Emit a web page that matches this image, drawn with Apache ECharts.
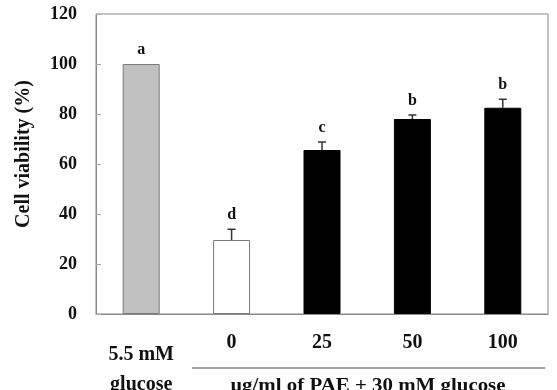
<!DOCTYPE html>
<html>
<head>
<meta charset="utf-8">
<script src="https://cdn.jsdelivr.net/npm/echarts@6/dist/echarts.min.js"></script>
<style>
  html, body { margin: 0; padding: 0; background: #fff; }
  #chart { width: 557px; height: 390px; }
</style>
</head>
<body>
<div id="chart"></div>
<script>
// values
const categories = ['5.5 mM\nglucose', '0', '25', '50', '100'];
const viability = [100, 29.6, 65.6, 78, 82.5];
const errors = [0, 4.3, 3.2, 1.6, 3.4];
const groupLetters = ['a', 'd', 'c', 'b', 'b'];
const yMin = 0;
const yMax = 120;
const yStep = 20;

const serif = '"Liberation Serif", "Times New Roman", serif';
const barStyles = [
  { color: '#c0c0c0', borderColor: '#7a7a7a', borderWidth: 1 },
  { color: '#ffffff', borderColor: '#7a7a7a', borderWidth: 1 },
  { color: '#000000', borderColor: '#000000', borderWidth: 1 },
  { color: '#000000', borderColor: '#000000', borderWidth: 1 },
  { color: '#000000', borderColor: '#000000', borderWidth: 1 }
];

const chart = echarts.init(document.getElementById('chart'));

function renderErrorBar(params, api) {
  const i = api.value(0);
  const v = api.value(1);
  const e = api.value(2);
  const base = api.coord([i, v]);
  const top = api.coord([i, v + e]);
  const children = [];
  if (e > 0) {
    children.push({
      type: 'line',
      shape: { x1: top[0], y1: base[1], x2: top[0], y2: top[1] },
      style: { stroke: '#333', lineWidth: 1.5 }
    });
    children.push({
      type: 'line',
      shape: { x1: top[0] - 4, y1: top[1], x2: top[0] + 4, y2: top[1] },
      style: { stroke: '#333', lineWidth: 1.5 }
    });
  }
  children.push({
    type: 'text',
    x: top[0],
    y: top[1] - 6,
    style: {
      text: groupLetters[params.dataIndex],
      font: 'bold 16px ' + serif,
      fill: '#111',
      align: 'center',
      verticalAlign: 'bottom'
    }
  });
  return { type: 'group', children: children };
}

const option = {
  animation: false,
  grid: {
    left: 96,
    right: 9,
    top: 14,
    bottom: 76,
    outerBoundsMode: 'none',
    containLabel: false,
    show: true,
    borderColor: '#8a8a8a',
    borderWidth: 1
  },
  xAxis: {
    type: 'category',
    data: categories,
    axisLine: { lineStyle: { color: '#8a8a8a', width: 1 } },
    axisTick: { show: false },
    axisLabel: {
      interval: 0,
      margin: 19,
      formatter: function (value, index) {
        if (index === 0) {
          const parts = value.split('\n');
          return '{s| }\n{g|' + parts[0] + '}\n{g|' + parts[1] + '}';
        }
        return '{n|' + value + '}';
      },
      rich: {
        s: { fontSize: 1, lineHeight: 7 },
        g: { fontFamily: serif, fontWeight: 'bold', fontSize: 20, lineHeight: 30, color: '#111' },
        n: { fontFamily: serif, fontWeight: 'bold', fontSize: 20, lineHeight: 20, color: '#111' }
      }
    }
  },
  yAxis: {
    type: 'value',
    min: yMin,
    max: yMax,
    interval: yStep,
    name: 'Cell viability (%)',
    nameLocation: 'middle',
    nameGap: 62,
    nameTextStyle: {
      fontFamily: serif,
      fontWeight: 'bold',
      fontSize: 20,
      color: '#111',
      padding: [0, 0, 0, 20]
    },
    axisLine: { show: true, lineStyle: { color: '#8a8a8a', width: 1 } },
    axisTick: { show: true, inside: true, length: 5, lineStyle: { color: '#aaa' } },
    splitLine: { show: false },
    axisLabel: {
      margin: 19,
      fontFamily: serif,
      fontWeight: 'bold',
      fontSize: 18,
      color: '#111'
    }
  },
  series: [
    {
      type: 'bar',
      barWidth: 37,
      data: viability.map((v, i) => ({ value: v, itemStyle: barStyles[i] }))
    },
    {
      type: 'custom',
      renderItem: renderErrorBar,
      clip: false,
      z: 5,
      data: viability.map((v, i) => [i, v, errors[i]])
    }
  ],
  graphic: [
    {
      type: 'line',
      shape: { x1: 192, y1: 368, x2: 545, y2: 368 },
      style: { stroke: '#444', lineWidth: 1 }
    },
    {
      type: 'text',
      x: 368,
      y: 386,
      scaleX: 1.1,
      style: {
        text: 'ug/ml of PAE + 30 mM glucose',
        font: 'bold 19px ' + serif,
        fill: '#111',
        align: 'center',
        verticalAlign: 'middle'
      }
    }
  ]
};

chart.setOption(option);
</script>
</body>
</html>
